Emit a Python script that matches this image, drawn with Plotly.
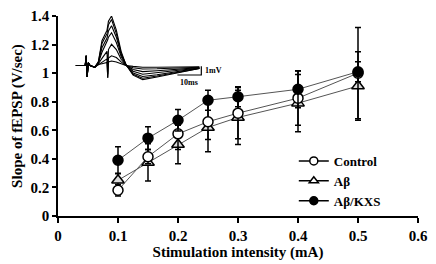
import plotly.graph_objects as go

# ---- data ----
intensity = [0.1, 0.15, 0.2, 0.25, 0.3, 0.4, 0.5]
control = [0.18, 0.415, 0.575, 0.66, 0.72, 0.825, 1.0]
control_err = [0.04, 0.05, 0.11, 0.125, 0.18, 0.19, 0.32]
abeta = [0.25, 0.375, 0.50, 0.62, 0.69, 0.79, 0.91]
abeta_err = [0.05, 0.13, 0.135, 0.17, 0.19, 0.20, 0.24]
kxs = [0.39, 0.545, 0.67, 0.81, 0.835, 0.887, 1.01]
kxs_err = [0.095, 0.08, 0.075, 0.07, 0.07, 0.13, 0.07]

x_ticks = [0, 0.1, 0.2, 0.3, 0.4, 0.5, 0.6]
x_tick_labels = ["0", "0.1", "0.2", "0.3", "0.4", "0.5", "0.6"]
y_ticks = [0, 0.2, 0.4, 0.6, 0.8, 1.0, 1.2, 1.4]
y_tick_labels = ["0", "0.2", "0.4", "0.6", "0.8", "1", "1.2", "1.4"]

# inset fEPSP traces (time in ms, voltage in mV)
trace_t = [0, 4.0, 4.4, 4.8, 5.3, 6.0, 8.0, 9.5, 11.0, 12.5, 13.1, 13.4, 13.7,
           15.0, 17.0, 19.0, 21.0, 24.0, 28.0, 34.0, 43.0, 51.7]
trace_1 = [0, 0, 1.1, -1.3, 0.3, 0, -0.2, 0.4, 2.8, 3.6, 4.0, 4.5, 5.0, 5.6, 4.0, 1.6, 0.1, -1.1, -1.6, -1.3, -0.8, -0.35]
trace_2 = [0, 0, 1.1, -1.3, 0.3, 0, -0.2, 0.4, 2.5, 3.2, 3.6, 4.1, 4.6, 5.2, 3.6, 1.4, 0.1, -1.0, -1.45, -1.2, -0.75, -0.35]
trace_3 = [0, 0, 1.1, -1.3, 0.3, 0, -0.2, 0.3, 2.0, 2.8, 3.1, 3.5, 3.9, 4.5, 3.2, 1.2, 0.1, -0.85, -1.25, -1.05, -0.65, -0.3]
trace_4 = [0, 0, 1.1, -1.3, 0.3, 0, -0.2, 0.3, 1.5, 2.3, 2.6, 2.9, 3.2, 3.7, 2.6, 1.0, 0.05, -0.65, -1.0, -0.85, -0.55, -0.3]
trace_5 = [0, 0, 1.1, -1.3, 0.3, 0, -0.2, 0.2, 0.8, 1.4, 1.6, -1.0, 1.8, 2.4, 1.8, 0.7, 0.05, -0.45, -0.7, -0.6, -0.45, -0.25]
trace_6 = [0, 0, 1.1, -1.3, 0.3, 0, -0.2, 0.1, 0.4, 0.65, 0.75, -1.4, 0.85, 1.1, 0.9, 0.4, 0, -0.25, -0.4, -0.38, -0.3, -0.2]
trace_7 = [0, 0, 1.1, -1.3, 0.3, 0, -0.2, 0.1, 0.2, 0.3, 0.35, -1.4, 0.4, 0.5, 0.4, 0.2, 0, -0.1, -0.2, -0.2, -0.18, -0.15]
inset_traces = [trace_1, trace_2, trace_3, trace_4, trace_5, trace_6, trace_7]
scalebar_t = [42.5, 52.5, 52.5]
scalebar_v = [-1.08, -1.08, -0.08]

FONT = "Liberation Serif"
fig = go.Figure()

# inset traces
for tr in inset_traces:
    fig.add_trace(go.Scatter(x=trace_t, y=tr, mode="lines", xaxis="x2", yaxis="y2",
                             line=dict(color="black", width=1.1), showlegend=False,
                             hoverinfo="skip"))
fig.add_trace(go.Scatter(x=scalebar_t, y=scalebar_v, mode="lines", xaxis="x2", yaxis="y2",
                         line=dict(color="black", width=1.2), showlegend=False, hoverinfo="skip"))
fig.add_annotation(x=53.0, y=-0.58, xref="x2", yref="y2", text="1mV", showarrow=False,
                   xanchor="left", font=dict(family=FONT, size=8, color="black", weight="bold"))
fig.add_annotation(x=47.5, y=-1.15, xref="x2", yref="y2", text="10ms", showarrow=False,
                   yanchor="top", font=dict(family=FONT, size=8, color="black", weight="bold"))

def series(name, y, err, symbol, fill):
    return go.Scatter(
        x=intensity, y=y, name=name, mode="lines+markers", showlegend=False,
        line=dict(color="#555555", width=1),
        marker=dict(symbol=symbol, size=10 if symbol != "triangle-up" else 11, color=fill,
                    line=dict(color="black", width=1.5)),
        error_y=dict(type="data", array=err, visible=True, color="black",
                     thickness=1.5, width=3),
    )

def legend_entry(name, symbol, fill, rank):
    return go.Scatter(
        x=[None], y=[None], name=name, mode="lines+markers", legendrank=rank,
        line=dict(color="black", width=1.5),
        marker=dict(symbol=symbol, size=8, color=fill, line=dict(color="black", width=1.5)),
    )

fig.add_trace(series("Aβ", abeta, abeta_err, "triangle-up", "#dcdcdc"))
fig.add_trace(series("Control", control, control_err, "circle", "white"))
fig.add_trace(series("Aβ/KXS", kxs, kxs_err, "circle", "black"))
fig.add_trace(legend_entry("Control", "circle", "white", 1))
fig.add_trace(legend_entry("Aβ", "triangle-up", "white", 2))
fig.add_trace(legend_entry("Aβ/KXS", "circle", "black", 3))

tickf = dict(family=FONT, size=15, color="black", weight="bold")
titlef = dict(family=FONT, size=15, color="black", weight="bold")
legend_font = dict(family=FONT, size=13, color="black", weight="bold")

fig.update_layout(
    width=436, height=264,
    margin=dict(l=58, r=12, t=8, b=46),
    plot_bgcolor="white", paper_bgcolor="white",
    font=tickf,
    showlegend=True,
    legend=dict(x=0.655, y=0.35, xanchor="left", yanchor="top", bgcolor="rgba(0,0,0,0)",
                font=legend_font, itemwidth=30, tracegroupgap=0),
    xaxis=dict(range=[0, 0.6], tickvals=x_ticks, ticktext=x_tick_labels,
               showline=True, linecolor="black", linewidth=1.5, ticks="outside",
               ticklen=5, tickwidth=1.5, tickcolor="black", showgrid=False, zeroline=False,
               title=dict(text="Stimulation intensity (mA)", font=titlef, standoff=2),
               tickfont=tickf),
    yaxis=dict(range=[0, 1.4], tickvals=y_ticks, ticktext=y_tick_labels,
               showline=True, linecolor="black", linewidth=1.5, ticks="outside",
               ticklen=4, tickwidth=1.5, tickcolor="black", showgrid=False, zeroline=False,
               title=dict(text="Slope of fEPSP (V/sec)", font=titlef, standoff=4),
               tickfont=tickf),
    xaxis2=dict(domain=[0.049, 0.444], range=[0, 59.4], visible=False, anchor="y2"),
    yaxis2=dict(domain=[0.667, 1.0], range=[-1.94, 5.6], visible=False, anchor="x2"),
)

fig.write_html("out.html", config={"displayModeBar": False},
               post_script="document.body.style.margin='0';")
